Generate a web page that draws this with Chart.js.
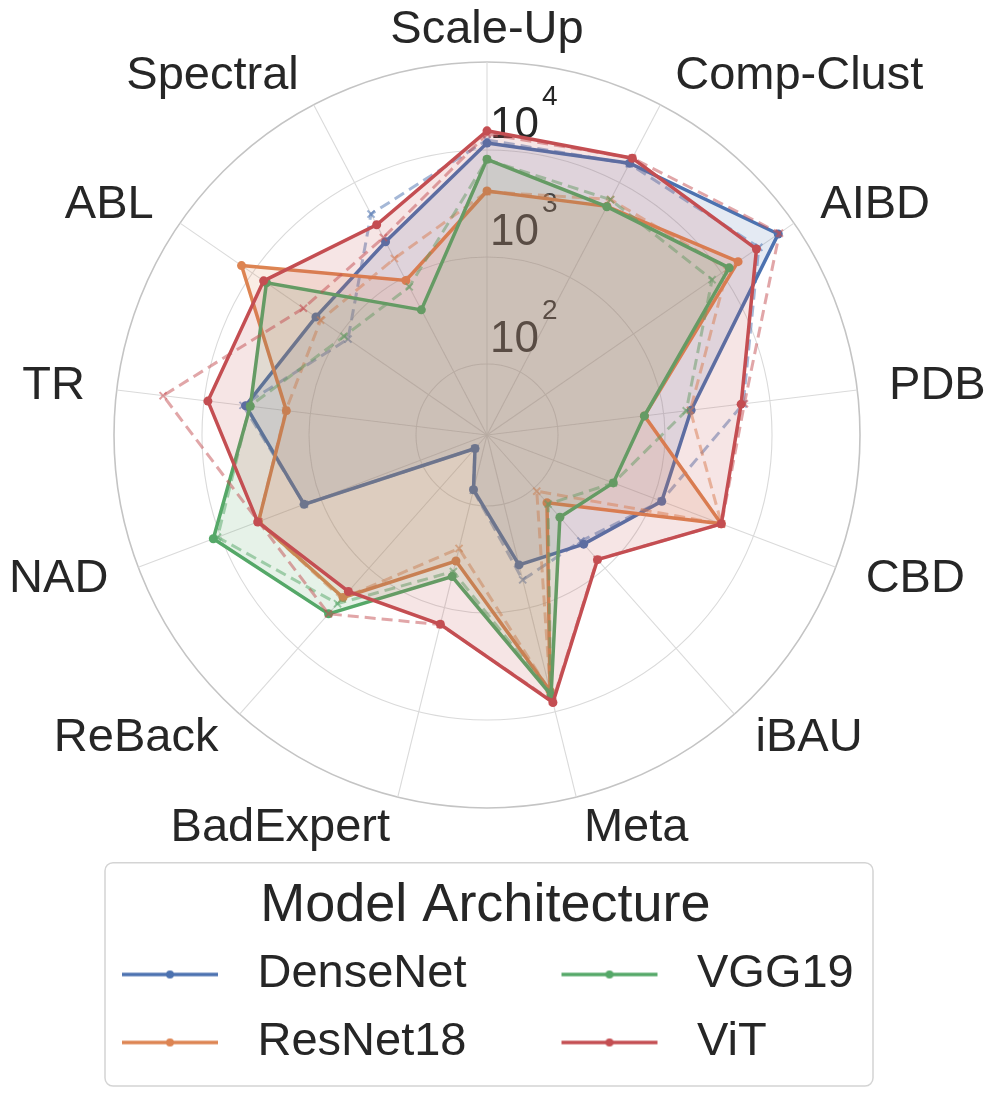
<!DOCTYPE html>
<html>
<head>
<meta charset="utf-8">
<title>radar</title>
<script src="https://cdn.jsdelivr.net/npm/chart.js@4.4.1/dist/chart.umd.min.js"></script>
<style>
  html, body { margin: 0; padding: 0; background: #fff; }
  canvas { display: block; }
</style>
</head>
<body>
<canvas id="myChart" width="996" height="1096"></canvas>
<script>
// axes, clockwise from the top
const defenses = ["Scale-Up", "Comp-Clust", "AIBD", "PDB", "CBD", "iBAU", "Meta",
  "BadExpert", "ReBack", "NAD", "TR", "ABL", "Spectral"];
const models = ["DenseNet", "ResNet18", "VGG19", "ViT"];
const colors = ["#4c72b0", "#dd8452", "#55a868", "#c44e52"];

// solid lines (filled)
const densenet = [11600, 16000, 44000, 1810, 1210, 500, 386, 73, 32, 1460, 4060, 1900, 2380];
const resnet18 = [4140, 5620, 15400, 658, 4760, 152, 6300, 354, 2320, 4170, 1680, 13300, 927];
const vgg19    = [8190, 5570, 12200, 658, 397, 231, 6900, 500, 3710, 11800, 3670, 6930, 454];
const vit      = [15100, 18100, 24900, 5360, 4760, 782, 8150, 1440, 1950, 4250, 9200, 7460, 3590];

// dashed lines
const densenetDash = [12400, 15800, 26500, 5600, 1200, 457, 538, 74, 32, 1450, 4300, 822, 4660];
const resnet18Dash = [4070, 6640, 11700, 1780, 4790, 109, 6460, 268, 2400, 4170, 1700, 1680, 1580];
const vgg19Dash    = [8130, 6610, 7800, 1630, 398, 158, 6610, 447, 2770, 10700, 3720, 912, 794];
const vitDash      = [14100, 18200, 45400, 5750, 4790, 776, 7940, 1450, 3710, 4170, 24300, 2640, 2630];

// log radial axis
const rMin = 21.7;
const rMax = 66400;
const tickValues = [100, 1000, 10000];

const solid = [densenet, resnet18, vgg19, vit];
const dashed = [densenetDash, resnet18Dash, vgg19Dash, vitDash];
const legendOrder = [0, 2, 1, 3]; // two columns, filled row by row

const FONT = '"Liberation Sans", Arial, sans-serif';

function rgba(hex, a) {
  const n = parseInt(hex.slice(1), 16);
  return "rgba(" + (n >> 16) + "," + ((n >> 8) & 255) + "," + (n & 255) + "," + a + ")";
}

// legend sample: line with a dot
function legendIcon(color) {
  const c = document.createElement("canvas");
  c.width = 186;
  c.height = 12;
  const g = c.getContext("2d");
  g.strokeStyle = color;
  g.lineWidth = 3.5;
  g.beginPath();
  g.moveTo(74, 6);
  g.lineTo(170, 6);
  g.stroke();
  g.fillStyle = color;
  g.beginPath();
  g.arc(122, 6, 4, 0, Math.PI * 2);
  g.fill();
  return c;
}
const legendIcons = colors.map(legendIcon);

let datasets = [];
models.forEach((m, i) => {
  datasets.push({
    label: m,
    data: solid[i].map(v => Math.log10(v)),
    borderColor: colors[i],
    backgroundColor: rgba(colors[i], 0.15),
    borderWidth: 3.5,
    fill: "start",
    pointRadius: 4.5,
    pointBackgroundColor: colors[i],
    pointBorderWidth: 0,
    order: 7 - 2 * i,
  });
  datasets.push({
    label: m + " (dashed)",
    data: dashed[i].map(v => Math.log10(v)),
    borderColor: rgba(colors[i], 0.5),
    borderWidth: 3,
    borderDash: [11, 6],
    fill: false,
    pointStyle: "crossRot",
    pointRadius: 5,
    pointBorderColor: rgba(colors[i], 0.55),
    pointBorderWidth: 2,
    order: 6 - 2 * i,
  });
});

// 10^n labels, under the fills
const tickLabels = {
  id: "tickLabels",
  beforeDatasetsDraw(chart) {
    const s = chart.scales.r;
    const ctx = chart.ctx;
    ctx.save();
    ctx.fillStyle = "#262626";
    ctx.textAlign = "left";
    ctx.textBaseline = "alphabetic";
    tickValues.forEach(v => {
      const r = s.getDistanceFromCenterForValue(Math.log10(v));
      const x = s.xCenter + 3;
      const y = s.yCenter - r - 12;
      ctx.font = "44px " + FONT;
      ctx.fillText("10", x, y);
      const w = ctx.measureText("10").width;
      ctx.font = "28px " + FONT;
      ctx.fillText(String(Math.round(Math.log10(v))), x + w + 3, y - 33);
    });
    ctx.restore();
  }
};

// axis names, anchored just outside the outer ring, aligned by side
const axisNames = {
  id: "axisNames",
  afterDraw(chart) {
    const s = chart.scales.r;
    const ctx = chart.ctx;
    ctx.save();
    ctx.fillStyle = "#262626";
    ctx.font = "47px " + FONT;
    ctx.textBaseline = "middle";
    chart.data.labels.forEach((name, i) => {
      const p = s.getPointPosition(i, s.drawingArea + 32);
      const dx = p.x - s.xCenter;
      ctx.textAlign = Math.abs(dx) < 1 ? "center" : (dx > 0 ? "left" : "right");
      ctx.fillText(name, p.x, p.y);
    });
    ctx.restore();
  }
};

// rounded frame round the legend
const legendFrame = {
  id: "legendFrame",
  beforeDraw(chart) {
    const lg = chart.legend;
    const ctx = chart.ctx;
    const x = lg.left + 78, y = lg.top + 54;
    const w = 768, h = lg.bottom + 10 - y, rad = 8;
    ctx.save();
    ctx.beginPath();
    ctx.moveTo(x + rad, y);
    ctx.arcTo(x + w, y, x + w, y + h, rad);
    ctx.arcTo(x + w, y + h, x, y + h, rad);
    ctx.arcTo(x, y + h, x, y, rad);
    ctx.arcTo(x, y, x + w, y, rad);
    ctx.closePath();
    ctx.fillStyle = "rgba(255,255,255,0.8)";
    ctx.fill();
    ctx.strokeStyle = "#d4d4d4";
    ctx.lineWidth = 1.5;
    ctx.stroke();
    ctx.restore();
  }
};

const config = {
  type: "radar",
  data: {
    labels: defenses,
    datasets: datasets,
  },
  options: {
    responsive: false,
    devicePixelRatio: 1,
    animation: false,
    layout: {
      padding: { left: 27, right: 49, top: 62, bottom: 20 },
    },
    elements: {
      line: { tension: 0 },
    },
    plugins: {
      tooltip: { enabled: false },
      legend: {
        position: "bottom",
        align: "start",
        title: {
          display: true,
          text: "      Model Architecture",
          color: "#262626",
          font: { size: 54, family: FONT, lineHeight: 0.95 },
          padding: { top: 70, bottom: 0 },
        },
        labels: {
          usePointStyle: true,
          pointStyleWidth: 186,
          padding: 21,
          color: "#262626",
          font: { size: 47, family: FONT },
          generateLabels: () => legendOrder.map(i => ({
            text: models[i],
            pointStyle: legendIcons[i],
            fillStyle: colors[i],
            strokeStyle: colors[i],
            lineWidth: 0,
            hidden: false,
            datasetIndex: 2 * i,
            fontColor: "#262626",
          })),
        },
      },
    },
    scales: {
      r: {
        min: Math.log10(rMin),
        max: Math.log10(rMax),
        afterBuildTicks: s => {
          s.ticks = [s.min].concat(tickValues.map(v => Math.log10(v)), [s.max]).map(v => ({ value: v }));
        },
        ticks: { display: false },
        grid: {
          circular: true,
          color: c => (c.tick && Math.abs(c.tick.value - c.scale.max) < 1e-6) ? "#c4c4c4" : "#dadada",
          lineWidth: c => (c.tick && Math.abs(c.tick.value - c.scale.max) < 1e-6) ? 1.6 : 1.1,
        },
        angleLines: { color: "#dadada", lineWidth: 1.1 },
        pointLabels: { display: false },
      },
    },
  },
  plugins: [legendFrame, tickLabels, axisNames],
};

const chart = new Chart(document.getElementById("myChart").getContext("2d"), config);
</script>
</body>
</html>
